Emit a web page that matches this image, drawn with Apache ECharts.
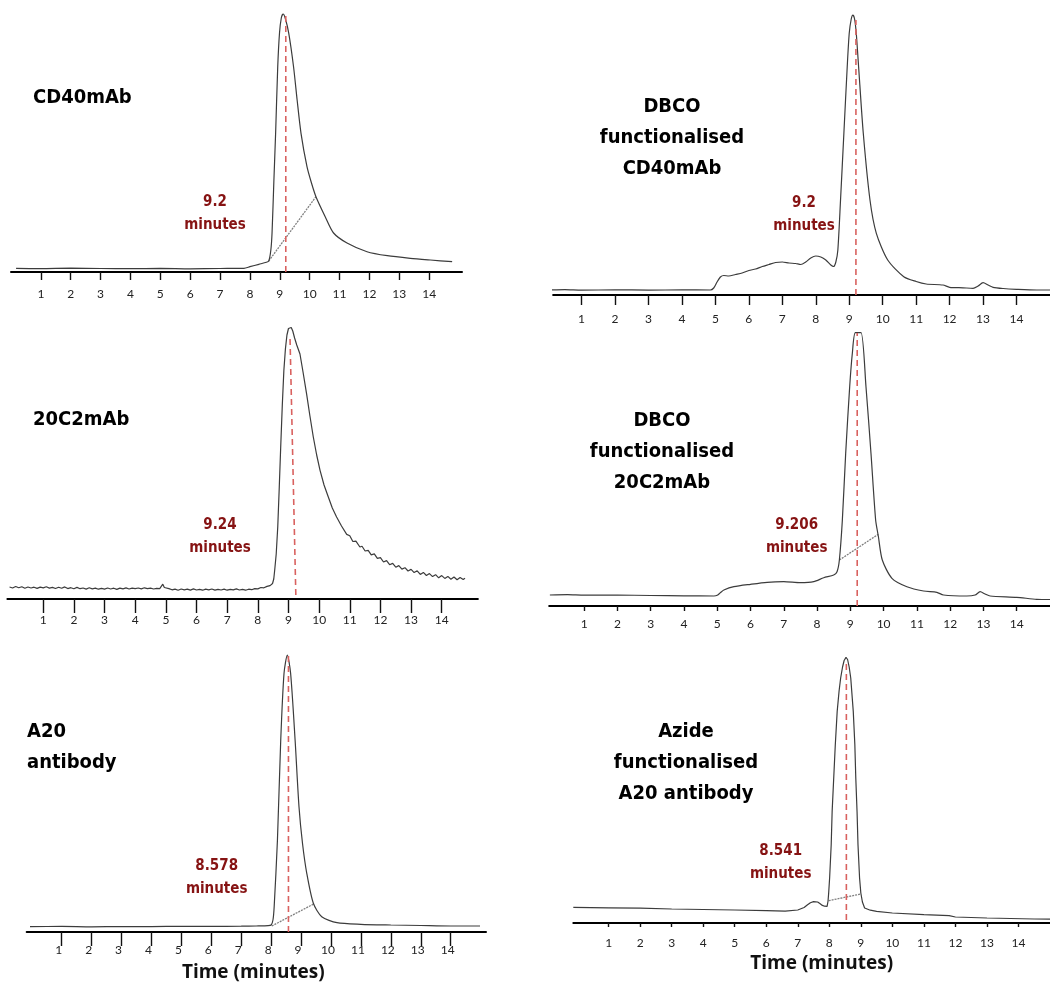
<!DOCTYPE html>
<html>
<head>
<meta charset="utf-8">
<title>SEC-HPLC chromatograms</title>
<script src="https://cdn.jsdelivr.net/npm/echarts@6/dist/echarts.min.js"></script>
<style>
  html, body { margin: 0; padding: 0; background: #fff; }
  #chart { width: 1050px; height: 983px; }
</style>
</head>
<body>
<div id="chart"></div>
<script>
// Retention-time axis ticks (minutes)
const tickValues = [1, 2, 3, 4, 5, 6, 7, 8, 9, 10, 11, 12, 13, 14];

// Sample names, one per panel
const sampleNames = [
  'CD40mAb',
  'DBCO\nfunctionalised\nCD40mAb',
  '20C2mAb',
  'DBCO\nfunctionalised\n20C2mAb',
  'A20\nantibody',
  'Azide\nfunctionalised\nA20 antibody'
];

// Main-peak retention times (minutes)
const retentionTimes = [9.2, 9.2, 9.24, 9.206, 8.578, 8.541];

// Detector traces: [time (min), signal (a.u.)]
const cd40Trace = [
  [0.17,3.6],[1,3.4],[2,3.8],[3,3.5],[4,3.3],[5,3.6],[6,3.2],[7,3.5],[7.8,3.7],
  [8.0,5.3],[8.3,7.7],[8.55,9.7],[8.63,11],[8.7,22],[8.74,39],[8.8,90],[8.86,139],
  [8.93,205],[8.99,239],[9.05,254],[9.11,258],[9.18,254],[9.3,238.7],[9.46,205.3],
  [9.58,172],[9.71,138.7],[9.91,105.3],[10.05,90],[10.21,75.3],[10.52,55.3],[10.8,39],
  [11.25,29],[11.92,20.3],[12.6,16.3],[13.37,13.7],[14.04,12],[14.77,10.3]
];

const dbcoCd40Trace = [
  [0.02,5],[0.5,5.3],[1,4.8],[2,5.2],[3,4.9],[4,5.1],[4.85,5],[4.95,7],[5.05,13],
  [5.15,18],[5.25,19.5],[5.4,19],[5.6,20.5],[5.8,22],[6.0,24.5],[6.2,26],[6.4,28.5],
  [6.6,30.5],[6.8,32.5],[7.0,33],[7.2,32],[7.4,31.5],[7.55,30.5],[7.7,33],[7.85,37],
  [8.0,39],[8.15,38],[8.3,35],[8.45,30],[8.53,28.5],[8.6,33],[8.66,45],[8.74,95],
  [8.84,161.7],[8.94,228.3],[9.0,261.7],[9.06,276],[9.11,280],[9.16,276],[9.21,261.7],
  [9.28,228.3],[9.42,161.7],[9.62,95],[9.81,61.7],[10.15,35],[10.63,18.3],[11.0,13.5],
  [11.3,11],[11.8,10],[12.0,7.7],[12.4,7.2],[12.7,6.7],[12.85,9],[13.0,12.3],[13.15,10],
  [13.3,7.7],[13.6,6.5],[14.0,5.7],[14.6,5],[15,5]
];

const c20Trace = [
  [-0.1,12.0],[0.0,11.0],[0.1,12.5],[0.2,11.2],[0.3,12.3],[0.4,10.8],[0.5,12.0],[0.6,11.0],
  [0.7,11.8],[0.8,10.6],[0.9,11.9],[1.0,11.1],[1.1,12.2],[1.2,10.9],[1.3,11.6],[1.4,10.5],
  [1.5,11.8],[1.6,10.7],[1.7,12.1],[1.8,10.4],[1.9,11.3],[2.0,10.2],[2.1,11.6],[2.2,10.3],
  [2.3,11.0],[2.4,9.9],[2.5,11.2],[2.6,10.1],[2.7,10.9],[2.8,9.8],[2.9,10.7],[3.0,9.9],
  [3.1,11.0],[3.2,10.0],[3.3,10.8],[3.4,9.6],[3.5,10.9],[3.6,10.2],[3.7,11.1],[3.8,10.0],
  [3.9,10.9],[4.0,10.3],[4.1,11.0],[4.2,10.1],[4.3,11.2],[4.4,10.3],[4.5,10.8],[4.6,10.0],
  [4.7,10.6],[4.8,10.4],[4.9,14.8],[4.95,11.5],[5.0,9.6],[5.1,10.4],[5.2,9.2],[5.3,9.9],
  [5.4,8.8],[5.5,10.0],[5.6,9.1],[5.7,9.8],[5.8,8.9],[5.9,10.1],[6.0,9.0],[6.1,9.7],
  [6.2,8.8],[6.3,9.9],[6.4,9.2],[6.5,10.0],[6.6,8.9],[6.7,9.6],[6.8,9.0],[6.9,9.9],
  [7.0,8.8],[7.1,9.7],[7.2,9.1],[7.3,10.1],[7.4,9.0],[7.5,9.6],[7.6,8.8],[7.7,9.8],
  [7.8,9.3],[7.9,10.4],[8.0,10.1],[8.1,11.5],[8.2,11.2],[8.3,12.6],[8.4,13.4],[8.48,15.5],
  [8.52,20],[8.55,28.7],[8.6,45],[8.65,72],[8.7,112],[8.75,155],[8.8,195],[8.85,228.7],
  [8.9,250],[8.95,264],[9.0,270.5],[9.04,272],[9.09,271.5],[9.14,268],[9.2,261],
  [9.27,254],[9.375,245],[9.48,226],[9.59,205.4],[9.7,183],[9.81,162],[9.92,144],
  [10.03,128.7],[10.16,114],[10.3,102],[10.43,91],[10.57,82],[10.73,73],
  [10.9,64.6],[11.0,63.2],[11.1,57.5],[11.2,57.9],[11.33,52],[11.4,52.8],[11.5,48.0],
  [11.6,48.6],[11.7,44.2],[11.8,45.1],[11.9,40.6],[12.0,41.3],[12.1,37.0],[12.2,38.4],
  [12.3,34.3],[12.4,35.6],[12.5,31.8],[12.6,33.4],[12.7,29.9],[12.8,31.3],[12.9,28.0],
  [13.0,29.6],[13.1,26.4],[13.2,28.2],[13.3,24.6],[13.4,26.6],[13.5,23.5],[13.6,25.4],
  [13.7,22.4],[13.8,24.3],[13.9,21.2],[14.0,23.4],[14.1,20.6],[14.2,22.6],[14.3,19.8],
  [14.4,22.0],[14.5,19.2],[14.6,21.5],[14.7,19.6],[14.76,20.8]
];

const dbcoC20Trace = [
  [-0.03,11],[0.5,11.3],[1,10.8],[2,10.9],[3,10.5],[4,10.2],[4.9,10],[5.0,10.7],[5.1,13.5],
  [5.2,16],[5.5,19.3],[6.0,21.7],[6.5,23.7],[7.0,24.3],[7.5,23.3],[7.9,24.3],[8.2,28.3],
  [8.5,31],[8.6,34.3],[8.67,46],[8.76,86],[8.86,152.7],[8.98,219.3],[9.06,252.7],
  [9.15,273.3],[9.32,273.3],[9.47,219.3],[9.62,152.7],[9.76,86],[9.84,70],[9.96,46],
  [10.25,27.7],[10.7,19.3],[11.2,15],[11.6,13.7],[11.8,11],[12.5,10],[12.75,11],
  [12.9,14.3],[13.05,12],[13.2,10],[14.0,8.7],[14.6,6.7],[15,6.5]
];

const a20Trace = [
  [-0.06,5.3],[1,5.6],[2,5.2],[3,5.5],[4,5.4],[5,5.7],[6,5.6],[7,5.8],[7.5,6],[7.9,6.3],
  [8.0,7],[8.06,12],[8.1,25],[8.21,92],[8.32,192],[8.43,258.7],[8.54,277],[8.65,258.7],
  [8.8,192],[8.93,125.3],[9.05,88],[9.19,58.7],[9.41,28.7],[9.69,15.3],[10.2,9.3],
  [11.0,7.7],[12.0,7],[13,6.5],[14.0,6],[14.98,6]
];

const azideA20Trace = [
  [-0.12,15.7],[1,15.2],[2,14.8],[3,14],[4,13.5],[5,13],[6,12.3],[6.6,11.8],[7.0,13],
  [7.2,15.5],[7.3,18],[7.4,20.3],[7.5,21.4],[7.56,21.6],[7.63,21],[7.7,19.5],[7.78,17.6],
  [7.85,16.8],[7.93,16.6],[7.96,22],[7.98,30],[8.01,45],[8.06,78.3],[8.09,111.6],
  [8.14,145],[8.19,178.3],[8.25,211.6],[8.31,232],[8.36,245],[8.42,256],[8.47,262.5],
  [8.53,265.6],[8.58,263.5],[8.63,256],[8.68,245],[8.76,211.6],[8.81,178.3],[8.84,145],
  [8.88,111.6],[8.91,78.3],[8.96,45],[9.0,30],[9.05,21],[9.12,15],[9.3,12.8],[9.5,11.6],
  [10.0,10],[11.0,8.3],[11.8,7.3],[12.0,6],[13.0,5],[14.5,4],[15,3.8]
];

// Peak integration baselines (drop lines under the main peak)
const cd40Baseline = [[8.63,11],[10.21,75.3]];
const dbcoC20Baseline = [[8.67,46],[9.84,71.7]];
const a20Baseline = [[8.02,6],[9.42,28]];
const azideA20Baseline = [[7.98,22.3],[9.0,29]];

// Extent of each retention-time marker: [signal at foot, signal at top, time at top]
const markerFoot = [0, 0, 4, 0, 0, 3];
const markerTop = [257, 275, 262, 273, 278, 263];
const markerTopTime = [9.2, 9.2, 9.05, 9.206, 8.578, 8.541];

const traces = [cd40Trace, dbcoCd40Trace, c20Trace, dbcoC20Trace, a20Trace, azideA20Trace];
const baselines = [cd40Baseline, null, null, dbcoC20Baseline, a20Baseline, azideA20Baseline];
const smoothing = [0.25, 0.25, false, 0.25, 0.25, false];

// Panel layout
const panels = [
  { left: 11,    width: 451,   top: 0,   height: 272, min: 0,     max: 15.1,  tickLen: 8,  margin: 16, labelShift: 0 },
  { left: 553.1, width: 510.2, top: 0,   height: 295, min: 0.15,  max: 15.0,  tickLen: 10, margin: 18, labelShift: 0 },
  { left: 7.4,   width: 470.5, top: 319, height: 280, min: -0.17, max: 15.18, tickLen: 14, margin: 15, labelShift: 0 },
  { left: 549.2, width: 512.5, top: 326, height: 280, min: -0.05, max: 15.0,  tickLen: 5,  margin: 12, labelShift: 0 },
  { left: 26.7,  width: 459.3, top: 652, height: 280, min: -0.17, max: 15.18, tickLen: 14, margin: 12, labelShift: 6 },
  { left: 573.3, width: 485.4, top: 643, height: 280, min: -0.12, max: 15.0,  tickLen: 4,  margin: 14, labelShift: 0 }
];

const nameBoxes = [
  { x: 33,  y: 98,    align: 'left' },
  { x: 672, y: 137.5, align: 'center' },
  { x: 33,  y: 420,   align: 'left' },
  { x: 662, y: 451.7, align: 'center' },
  { x: 27,  y: 747.5, align: 'left' },
  { x: 686, y: 763,   align: 'center' }
];
const rtBoxes = [
  { x: 215,   y: 213.4 },
  { x: 804,   y: 214.7 },
  { x: 220,   y: 536.3 },
  { x: 796.7, y: 536.3 },
  { x: 216.7, y: 877.3 },
  { x: 780.7, y: 862.7 }
];

const condensed = '"DejaVu Sans Condensed", "Liberation Sans Narrow", "DejaVu Sans", sans-serif';

const grid = [], xAxis = [], yAxis = [], series = [], graphic = [];

panels.forEach((p, i) => {
  grid.push({ left: p.left, top: p.top, width: p.width, height: p.height, containLabel: false });
  xAxis.push({
    type: 'value', gridIndex: i, min: p.min, max: p.max,
    axisLine: { show: true, onZero: false, lineStyle: { color: '#000', width: 2 } },
    axisTick: { show: true, customValues: tickValues, length: p.tickLen, lineStyle: { color: '#111', width: 1.4 } },
    axisLabel: {
      show: true, customValues: tickValues, margin: p.margin,
      color: '#222', fontSize: 12, fontFamily: 'Lato, "Open Sans", sans-serif',
      padding: [0, p.labelShift, 0, 0]
    },
    splitLine: { show: false }
  });
  yAxis.push({ type: 'value', gridIndex: i, min: 0, max: p.height, show: false });

  series.push({
    type: 'line', xAxisIndex: i, yAxisIndex: i, data: traces[i],
    showSymbol: false, smooth: smoothing[i], clip: false, silent: true,
    lineStyle: { color: '#3c3c3c', width: 1.2 }, z: 3
  });
  if (baselines[i]) {
    series.push({
      type: 'line', xAxisIndex: i, yAxisIndex: i, data: baselines[i],
      showSymbol: false, silent: true,
      lineStyle: { color: '#808080', width: 1.3, type: [2, 1] }, z: 2
    });
  }
  series.push({
    type: 'line', xAxisIndex: i, yAxisIndex: i,
    data: [[retentionTimes[i], markerFoot[i]], [markerTopTime[i], markerTop[i]]],
    showSymbol: false, silent: true,
    lineStyle: { color: '#d9615f', width: 1.6, type: [6, 4] }, z: 4
  });

  graphic.push({
    type: 'text', silent: true,
    style: {
      text: sampleNames[i], x: nameBoxes[i].x, y: nameBoxes[i].y,
      textAlign: nameBoxes[i].align, textVerticalAlign: 'middle',
      fontFamily: condensed, fontWeight: 'bold', fontSize: 20, lineHeight: 31,
      fill: '#000'
    }
  });
  graphic.push({
    type: 'text', silent: true,
    style: {
      text: String(retentionTimes[i]) + '\nminutes', x: rtBoxes[i].x, y: rtBoxes[i].y,
      textAlign: 'center', textVerticalAlign: 'middle',
      fontFamily: condensed, fontWeight: 'bold', fontSize: 15, lineHeight: 23,
      fill: '#861313'
    }
  });
});

// Shared axis title under the bottom row
[{ x: 253.3, y: 972.3 }, { x: 821.7, y: 963.3 }].forEach(pos => {
  graphic.push({
    type: 'text', silent: true,
    style: {
      text: 'Time (minutes)', x: pos.x, y: pos.y,
      textAlign: 'center', textVerticalAlign: 'middle',
      fontFamily: '"Open Sans", sans-serif', fontWeight: 'bold', fontSize: 19,
      fill: '#111'
    }
  });
});

const chart = echarts.init(document.getElementById('chart'), null, { renderer: 'canvas' });
chart.setOption({
  animation: false,
  backgroundColor: '#fff',
  grid, xAxis, yAxis, series, graphic
});
</script>
</body>
</html>
